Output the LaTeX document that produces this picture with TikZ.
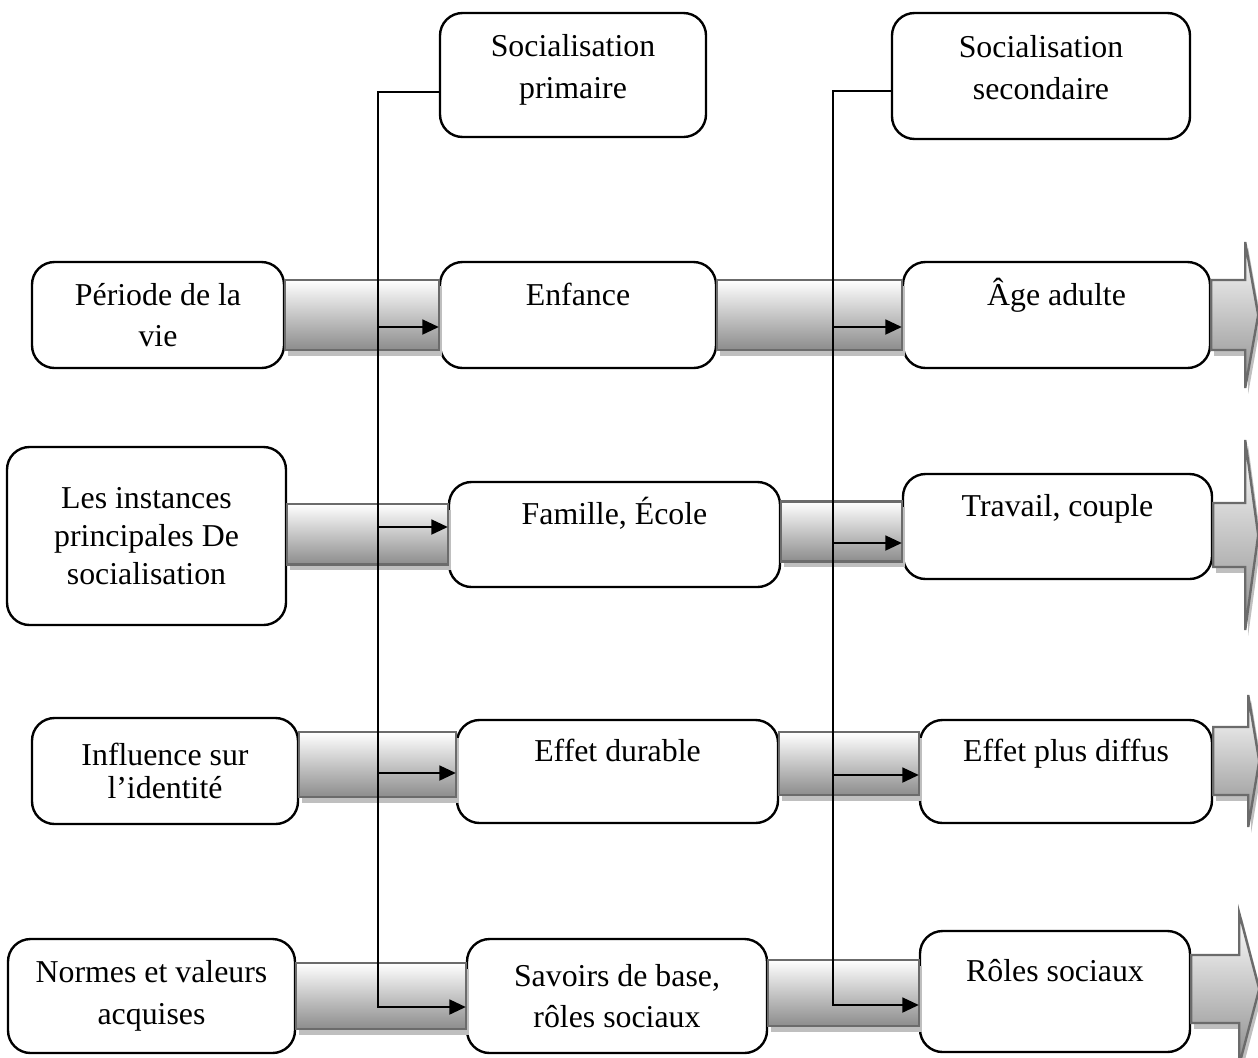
\documentclass[tikz,border=0pt]{standalone}
\usepackage{fontspec}
\setmainfont{Liberation Serif}
\usetikzlibrary{shadows, arrows.meta}
\newlength{\pxu}
\setlength{\pxu}{0.377pt}
\tikzset{
	cadre/.style={
		rectangle,
		rounded corners=8.5pt,
		draw=black,
		line width=0.9pt,
		inner sep=0pt,
		align=center,
		font=\fontsize{12}{15.6}\selectfont
	},
	haut/.style={text height=9pt, text depth=16.5pt},
	barre/.style={
		draw=black!58,
		line width=0.9pt,
		top color=white,
		bottom color=black!45,
		drop shadow={shadow xshift=1.1pt, shadow yshift=-2.2pt, fill=black!25, opacity=1}
	},
	fleche/.style={line width=0.85pt, -{Triangle[length=6.2pt,width=5.6pt]}}
}

\begin{document}
\begin{tikzpicture}[x=\pxu, y=-\pxu]
	\useasboundingbox (0,0) rectangle (1258,1057);
	% boites
	\node (sp) [cadre, text depth=6.5pt, minimum width=266\pxu, minimum height=124\pxu] at (573,75) {Socialisation\\primaire};
	\node (ss) [cadre, text depth=6.5pt, minimum width=298\pxu, minimum height=126\pxu] at (1041,76) {Socialisation\\secondaire};
	\node (vie) [cadre, minimum width=252\pxu, minimum height=106\pxu] at (158,315) {Période de la\\vie};
	\node (enf) [cadre, haut, minimum width=276\pxu, minimum height=106\pxu] at (578,315) {Enfance};
	\node (adu) [cadre, haut, minimum width=307\pxu, minimum height=106\pxu] at (1056.5,315) {Âge adulte};
	\node (ins) [cadre, font=\fontsize{12}{14.4}\selectfont, minimum width=279\pxu, minimum height=178\pxu] at (146.5,536) {Les instances\\principales De\\socialisation};
	\node (fam) [cadre, haut, minimum width=331\pxu, minimum height=105\pxu] at (614.5,534.5) {Famille, École};
	\node (tra) [cadre, haut, minimum width=309\pxu, minimum height=105\pxu] at (1057.5,526.5) {Travail, couple};
	\node (inf) [cadre, font=\fontsize{12}{12.5}\selectfont, minimum width=266\pxu, minimum height=106\pxu] at (165,771) {Influence sur\\l’identité};
	\node (dur) [cadre, haut, minimum width=321\pxu, minimum height=103\pxu] at (617.5,771.5) {Effet durable};
	\node (dif) [cadre, haut, minimum width=292\pxu, minimum height=103\pxu] at (1066,771.5) {Effet plus diffus};
	\node (nor) [cadre, minimum width=287\pxu, minimum height=114\pxu] at (151.5,996) {Normes et valeurs\\acquises};
	\node (sav) [cadre, minimum width=300\pxu, minimum height=114\pxu] at (617,996) {Savoirs de base,\\rôles sociaux};
	\node (rol) [cadre, haut, minimum width=270\pxu, minimum height=121\pxu] at (1055,991.5) {Rôles sociaux};

	% barres grises
	\path[barre] ([yshift=35\pxu]vie.east) rectangle ([yshift=-35\pxu]enf.west);
	\path[barre] ([yshift=35\pxu]enf.east) rectangle ([yshift=-35\pxu]adu.west);
	\path[barre] ([yshift=32\pxu]ins.east) rectangle ([yshift=-30\pxu]fam.west);
	\path[barre] ([yshift=33\pxu]fam.east) rectangle ([yshift=-35\pxu]tra.west);
	\path[barre] ([yshift=39\pxu]inf.east) rectangle ([yshift=-25.5\pxu]dur.west);
	\path[barre] ([yshift=39.5\pxu]dur.east) rectangle ([yshift=-23.5\pxu]dif.west);
	\path[barre] ([yshift=33\pxu]nor.east) rectangle ([yshift=-33\pxu]sav.west);
	\path[barre] ([yshift=36\pxu]sav.east) rectangle ([yshift=-34.5\pxu]rol.west);
	% grosses fleches a droite
	\path[barre] ([yshift=35\pxu]adu.east) -- ++(34,0) -- ++(0,-38) -- ++(13,73) -- ++(-13,73) -- ++(0,-38) -- ([yshift=-35\pxu]adu.east) -- cycle;
	\path[barre] ([yshift=23.5\pxu]tra.east) -- ++(32,0) -- ++(0,-63) -- ++(13,95) -- ++(-13,95) -- ++(0,-63) -- ([yshift=-40.5\pxu]tra.east) -- cycle;
	\path[barre] ([yshift=44.5\pxu]dif.east) -- ++(35,0) -- ++(0,-32) -- ++(11,66) -- ++(-11,66) -- ++(0,-32) -- ([yshift=-23.5\pxu]dif.east) -- cycle;
	\path[barre] ([yshift=36.5\pxu]rol.east) -- ++(48,0) -- ++(0,-42) -- ++(20,76) -- ++(-20,76) -- ++(0,-42) -- ([yshift=-31.5\pxu]rol.east) -- cycle;

	% lignes de socialisation
	\coordinate (hautA) at (378,92);
	\coordinate (basA) at (378,1007);
	\coordinate (hautB) at (833,91);
	\coordinate (basB) at (833,1005);
	\coordinate (a1) at (378,327);
	\coordinate (a2) at (378,527);
	\coordinate (a3) at (378,773);
	\coordinate (b1) at (833,327);
	\coordinate (b2) at (833,543);
	\coordinate (b3) at (833,775);

	\draw [fleche] (hautA -| sp.west) -- (hautA) -- (basA) -- (basA -| sav.west);
	\draw [fleche] (hautB -| ss.west) -- (hautB) -- (basB) -- (basB -| rol.west);
	\draw [fleche] (a1) -- (a1 -| enf.west);
	\draw [fleche] (a2) -- (a2 -| fam.west);
	\draw [fleche] (a3) -- (a3 -| dur.west);
	\draw [fleche] (b1) -- (b1 -| adu.west);
	\draw [fleche] (b2) -- (b2 -| tra.west);
	\draw [fleche] (b3) -- (b3 -| dif.west);
\end{tikzpicture}
\end{document}
